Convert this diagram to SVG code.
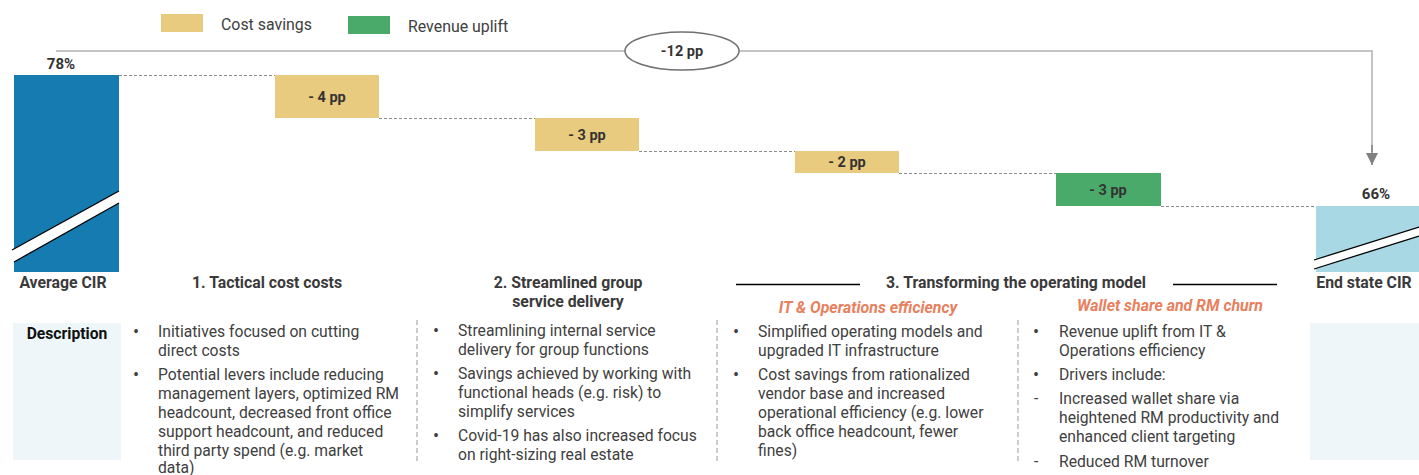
<svg xmlns="http://www.w3.org/2000/svg" width="1419" height="475" viewBox="0 0 1419 475">
<style>
text{font-family:Roboto,"Liberation Sans",sans-serif;fill:#404040}
.b{font-weight:bold}
.lbl{font-size:15.8px;font-weight:bold;text-anchor:middle;fill:#3a3a3a}
.val{font-size:14.5px;font-weight:bold;text-anchor:middle;fill:#333}
.bt{font-size:15.7px}
.bul{font-size:18px}
.sub{font-size:15.9px;font-weight:bold;font-style:italic;fill:#E8805E;text-anchor:middle}
.dot{stroke:#8a8a8a;stroke-width:1;stroke-dasharray:3,2;fill:none}
.sep{stroke:#9a9a9a;stroke-width:1;stroke-dasharray:5,3;fill:none}
.brk{stroke:#000;stroke-width:1.3;fill:none}
</style>
<defs>
<marker id="ah" markerWidth="12" markerHeight="12" refX="10" refY="5" orient="auto" markerUnits="userSpaceOnUse" viewBox="0 0 10 10">
<path d="M0,0 L10,5 L0,10 Z" fill="#808080"/>
</marker>
</defs>
<rect width="1419" height="475" fill="#fff"/>

<g id="legend">
<rect x="161" y="14" width="42" height="18" fill="#E8CB7E"/>
<text x="221" y="30" font-size="15.9">Cost savings</text>
<rect x="348" y="16" width="42" height="18" fill="#4AAA6A"/>
<text x="408" y="32" font-size="15.9">Revenue uplift</text>
</g>

<g id="connectors">
<polyline points="56,51 1372,51 1372,152" fill="none" stroke="#c4c4c4" stroke-width="2"/>
<line x1="1372" y1="145" x2="1372" y2="165" stroke="#808080" stroke-width="1.5" marker-end="url(#ah)"/>
<line x1="119" y1="75.5" x2="275" y2="75.5" class="dot"/>
<line x1="379" y1="118.5" x2="535" y2="118.5" class="dot"/>
<line x1="639" y1="151.5" x2="795" y2="151.5" class="dot"/>
<line x1="899" y1="173.5" x2="1056" y2="173.5" class="dot"/>
<line x1="1161" y1="206.5" x2="1316" y2="206.5" class="dot"/>
</g>

<g id="total">
<ellipse cx="682" cy="51" rx="57" ry="19" fill="#fff" stroke="#707070" stroke-width="1.5"/>
<text x="682" y="56" class="val" font-size="15">-12 pp</text>
</g>

<g id="avg-cir">
<rect x="14" y="75" width="105" height="197" fill="#157BB0"/>
<polygon points="12,250 119,191 119,203 14,262" fill="#fff"/>
<line x1="12" y1="250" x2="119" y2="191" class="brk"/>
<line x1="14" y1="262" x2="119" y2="203" class="brk"/>
<text x="61" y="69" class="val" style="font-size:15px">78%</text>
<text x="63" y="288" class="lbl">Average CIR</text>
</g>

<g id="bar1">
<rect x="275" y="75" width="104" height="43" fill="#E8CB7E"/>
<text x="327" y="102" class="val">- 4 pp</text>
</g>
<g id="bar2">
<rect x="535" y="118" width="104" height="33" fill="#E8CB7E"/>
<text x="587" y="140" class="val">- 3 pp</text>
</g>
<g id="bar3">
<rect x="795" y="151" width="104" height="22" fill="#E8CB7E"/>
<text x="847" y="167" class="val">- 2 pp</text>
</g>
<g id="bar4">
<rect x="1056" y="173" width="105" height="33" fill="#4AAA6A"/>
<text x="1108" y="195" class="val">- 3 pp</text>
</g>

<g id="end-cir">
<rect x="1316" y="206" width="103" height="66" fill="#A8D8E3"/>
<polygon points="1314,260 1419,227 1419,236 1314,269" fill="#fff"/>
<line x1="1314" y1="260" x2="1419" y2="227" class="brk"/>
<line x1="1314" y1="269" x2="1419" y2="236" class="brk"/>
<text x="1376" y="199" class="val" style="font-size:15px">66%</text>
<text x="1364" y="288" class="lbl">End state CIR</text>
</g>

<g id="headers">
<text x="267" y="288" class="lbl">1. Tactical cost costs</text>
<text x="568" y="288" class="lbl">2. Streamlined group</text>
<text x="568" y="307" class="lbl">service delivery</text>
<line x1="736" y1="284.5" x2="860" y2="284.5" stroke="#000" stroke-width="1.5"/>
<text x="1016" y="288" class="lbl">3. Transforming the operating model</text>
<line x1="1173" y1="284.5" x2="1277" y2="284.5" stroke="#000" stroke-width="1.5"/>
<text x="868" y="313" class="sub">IT &amp; Operations efficiency</text>
<text x="1170" y="311" class="sub">Wallet share and RM churn</text>
</g>

<g id="description">
<rect x="13" y="323" width="108" height="137" fill="#EEF6FA"/>
<text x="67" y="339" font-size="15.7" class="b" text-anchor="middle" style="fill:#111">Description</text>
<rect x="1310" y="323" width="109" height="137" fill="#EEF6FA"/>
</g>

<g id="separators">
<line x1="417" y1="320" x2="417" y2="463" class="sep"/>
<line x1="717" y1="320" x2="717" y2="463" class="sep"/>
<line x1="1018" y1="320" x2="1018" y2="463" class="sep"/>
</g>

<g id="col1">
<text x="133" y="338" class="bul">•</text>
<text x="158" y="337" class="bt">Initiatives focused on cutting</text>
<text x="158" y="356" class="bt">direct costs</text>
<text x="133" y="381" class="bul">•</text>
<text x="158" y="380" class="bt">Potential levers include reducing</text>
<text x="158" y="399" class="bt">management layers, optimized RM</text>
<text x="158" y="418" class="bt">headcount, decreased front office</text>
<text x="158" y="437" class="bt">support headcount, and reduced</text>
<text x="158" y="456" class="bt">third party spend (e.g. market</text>
<text x="158" y="473" class="bt">data)</text>
</g>

<g id="col2">
<text x="433" y="337" class="bul">•</text>
<text x="458" y="336" class="bt">Streamlining internal service</text>
<text x="458" y="355" class="bt">delivery for group functions</text>
<text x="433" y="380" class="bul">•</text>
<text x="458" y="379" class="bt">Savings achieved by working with</text>
<text x="458" y="398" class="bt">functional heads (e.g. risk) to</text>
<text x="458" y="417" class="bt">simplify services</text>
<text x="433" y="442" class="bul">•</text>
<text x="458" y="441" class="bt">Covid-19 has also increased focus</text>
<text x="458" y="460" class="bt">on right-sizing real estate</text>
</g>

<g id="col3">
<text x="733" y="338" class="bul">•</text>
<text x="758" y="337" class="bt">Simplified operating models and</text>
<text x="758" y="356" class="bt">upgraded IT infrastructure</text>
<text x="733" y="381" class="bul">•</text>
<text x="758" y="380" class="bt">Cost savings from rationalized</text>
<text x="758" y="399" class="bt">vendor base and increased</text>
<text x="758" y="418" class="bt">operational efficiency (e.g. lower</text>
<text x="758" y="437" class="bt">back office headcount, fewer</text>
<text x="758" y="456" class="bt">fines)</text>
</g>

<g id="col4">
<text x="1033" y="338" class="bul">•</text>
<text x="1059" y="337" class="bt">Revenue uplift from IT &amp;</text>
<text x="1059" y="356" class="bt">Operations efficiency</text>
<text x="1033" y="381" class="bul">•</text>
<text x="1059" y="380" class="bt">Drivers include:</text>
<text x="1034" y="404" class="bt">-</text>
<text x="1059" y="404" class="bt">Increased wallet share via</text>
<text x="1059" y="423" class="bt">heightened RM productivity and</text>
<text x="1059" y="442" class="bt">enhanced client targeting</text>
<text x="1034" y="467" class="bt">-</text>
<text x="1059" y="467" class="bt">Reduced RM turnover</text>
</g>
</svg>
